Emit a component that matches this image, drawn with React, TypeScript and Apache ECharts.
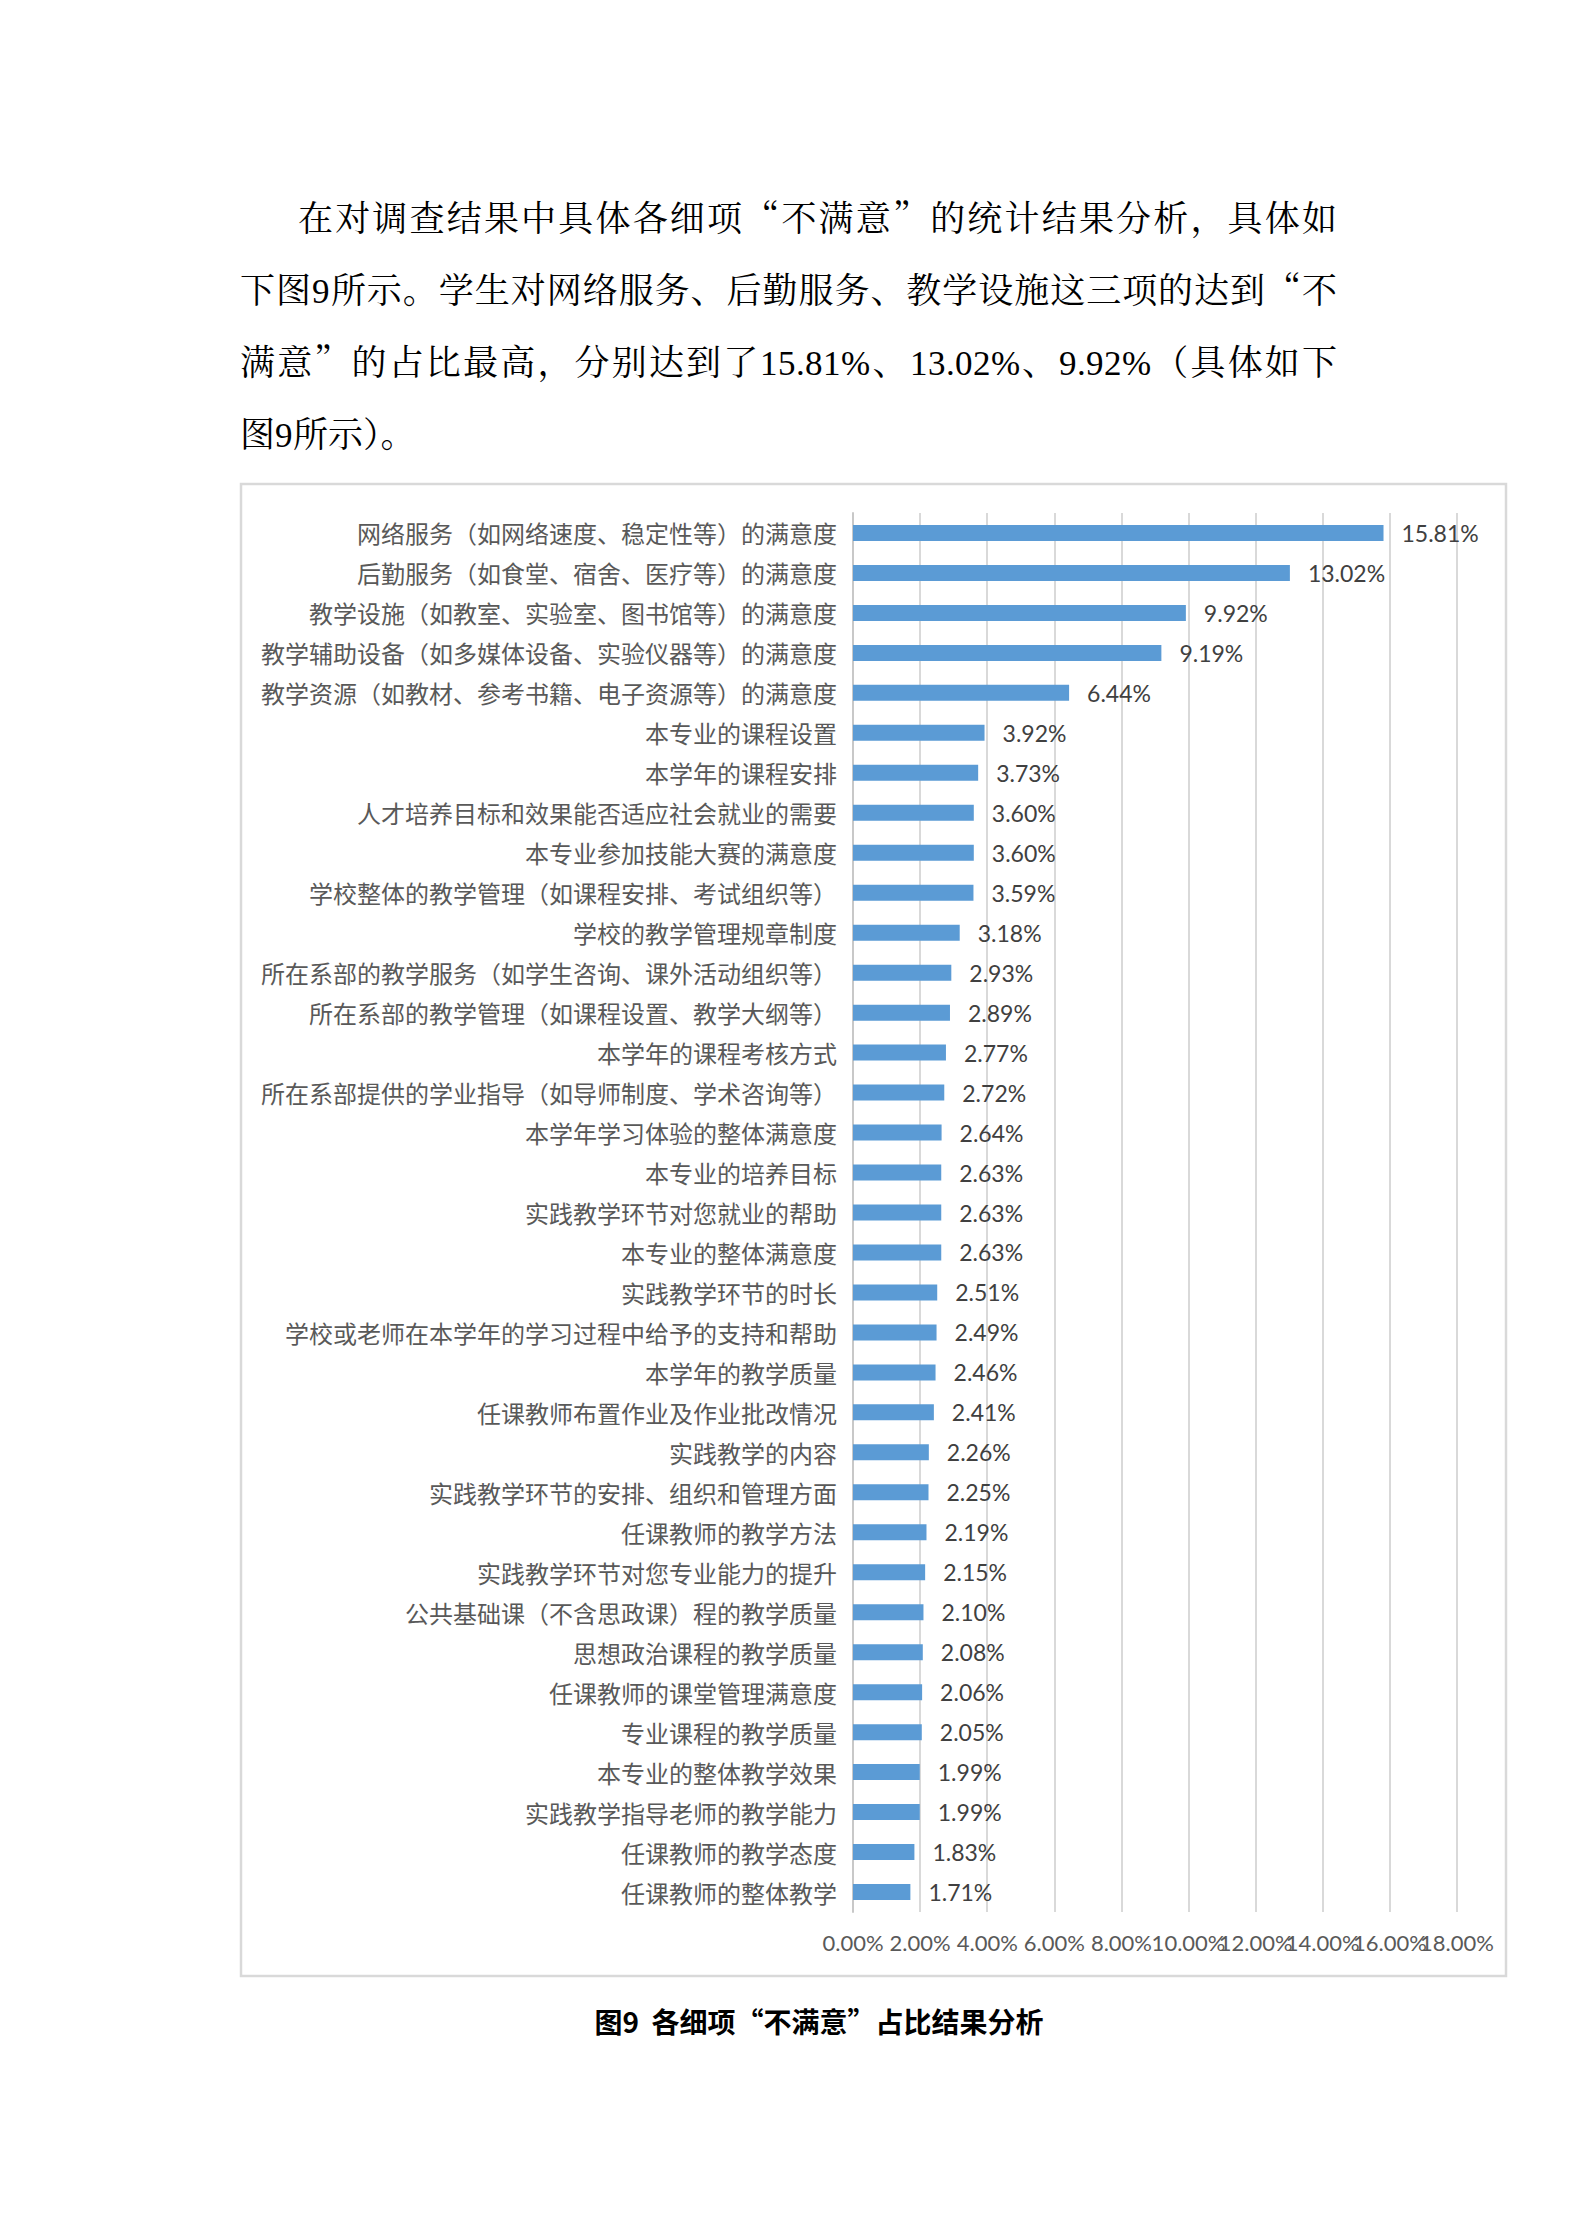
import React, { useEffect, useRef } from "react";
import * as echarts from "echarts";

const paragraphLines = [
  "在对调查结果中具体各细项“不满意”的统计结果分析，具体如",
  "下图9所示。学生对网络服务、后勤服务、教学设施这三项的达到“不",
  "满意”的占比最高，分别达到了15.81%、13.02%、9.92%（具体如下",
  "图9所示）。",
];

const categories = [
  "网络服务（如网络速度、稳定性等）的满意度",
  "后勤服务（如食堂、宿舍、医疗等）的满意度",
  "教学设施（如教室、实验室、图书馆等）的满意度",
  "教学辅助设备（如多媒体设备、实验仪器等）的满意度",
  "教学资源（如教材、参考书籍、电子资源等）的满意度",
  "本专业的课程设置",
  "本学年的课程安排",
  "人才培养目标和效果能否适应社会就业的需要",
  "本专业参加技能大赛的满意度",
  "学校整体的教学管理（如课程安排、考试组织等）",
  "学校的教学管理规章制度",
  "所在系部的教学服务（如学生咨询、课外活动组织等）",
  "所在系部的教学管理（如课程设置、教学大纲等）",
  "本学年的课程考核方式",
  "所在系部提供的学业指导（如导师制度、学术咨询等）",
  "本学年学习体验的整体满意度",
  "本专业的培养目标",
  "实践教学环节对您就业的帮助",
  "本专业的整体满意度",
  "实践教学环节的时长",
  "学校或老师在本学年的学习过程中给予的支持和帮助",
  "本学年的教学质量",
  "任课教师布置作业及作业批改情况",
  "实践教学的内容",
  "实践教学环节的安排、组织和管理方面",
  "任课教师的教学方法",
  "实践教学环节对您专业能力的提升",
  "公共基础课（不含思政课）程的教学质量",
  "思想政治课程的教学质量",
  "任课教师的课堂管理满意度",
  "专业课程的教学质量",
  "本专业的整体教学效果",
  "实践教学指导老师的教学能力",
  "任课教师的教学态度",
  "任课教师的整体教学",
];

const values = [
  15.81, 13.02, 9.92, 9.19, 6.44, 3.92, 3.73, 3.6, 3.6, 3.59, 3.18, 2.93, 2.89,
  2.77, 2.72, 2.64, 2.63, 2.63, 2.63, 2.51, 2.49, 2.46, 2.41, 2.26, 2.25, 2.19,
  2.15, 2.1, 2.08, 2.06, 2.05, 1.99, 1.99, 1.83, 1.71,
];

const xTicks = [0, 2, 4, 6, 8, 10, 12, 14, 16, 18];
const xTickLabels = ["0.00%", "2.00%", "4.00%", "6.00%", "8.00%", "10.00%", "12.00%", "14.00%", "16.00%", "18.00%"];

const captionText = "图9  各细项“不满意”占比结果分析";

const PAGE_W = 1580;
const PAGE_H = 2237;
const CJK = '"Noto Sans CJK SC", "Noto Sans", sans-serif';
const NUM = 'Lato, "Noto Sans", sans-serif';

const fontFaceCss =
  '@font-face { font-family: "LatinSerifOnly"; src: local("Liberation Serif"), local("LiberationSerif"), local("Liberation Serif Regular"), local("LiberationSerif-Regular"); unicode-range: U+0000-00FF; }';

export default function App() {
  const ref = useRef<HTMLDivElement>(null);

  useEffect(() => {
    if (!ref.current) return;
    const chart = echarts.init(ref.current, undefined, { renderer: "svg" });
    chart.setOption({
      animation: false,
      backgroundColor: "transparent",
      grid: {
        left: 853,
        right: PAGE_W - 1457,
        top: 513,
        bottom: PAGE_H - 1912,
        containLabel: false,
        outerBoundsMode: "none",
      },
      xAxis: [
        {
          type: "value",
          min: xTicks[0],
          max: xTicks[xTicks.length - 1],
          interval: xTicks[1] - xTicks[0],
          axisLine: { show: false },
          axisTick: { show: false },
          splitLine: { show: true, lineStyle: { color: "#d9d9d9", width: 2 } },
          axisLabel: { show: false },
        },
        {
          type: "category",
          position: "bottom",
          data: xTickLabels,
          boundaryGap: false,
          axisLine: { show: false },
          axisTick: { show: false },
          splitLine: { show: false },
          axisLabel: {
            interval: 0,
            fontFamily: NUM,
            fontSize: 22,
            color: "#595959",
            margin: 19,
          },
        },
      ],
      yAxis: {
        type: "category",
        inverse: true,
        data: categories,
        axisLine: { show: true, lineStyle: { color: "#c8c8c8", width: 2 } },
        axisTick: { show: false },
        axisLabel: {
          fontFamily: CJK,
          fontSize: 24,
          color: "#595959",
          margin: 16,
          interval: 0,
        },
      },
      series: [
        {
          type: "bar",
          xAxisIndex: 0,
          data: values,
          barWidth: 16,
          itemStyle: { color: "#5b9bd5" },
          label: {
            show: true,
            position: "right",
            distance: 18,
            formatter: (p: any) => Number(p.value).toFixed(2) + "%",
            fontFamily: NUM,
            fontSize: 23,
            color: "#404040",
          },
        },
      ],
      graphic: [
        {
          type: "rect",
          shape: { x: 241, y: 484, width: 1265, height: 1492 },
          style: { fill: "none", stroke: "#d9d9d9", lineWidth: 2.5 },
          silent: true,
        },
        {
          type: "text",
          x: 819,
          y: 2021,
          style: {
            text: captionText,
            font: 'bold 28px "Noto Sans CJK SC", sans-serif',
            fill: "#000000",
            textAlign: "center",
            textVerticalAlign: "middle",
          },
          silent: true,
        },
      ],
    });
    return () => chart.dispose();
  }, []);

  return (
    <div
      style={{
        position: "absolute",
        left: 0,
        top: 0,
        width: PAGE_W,
        height: PAGE_H,
        background: "#ffffff",
        overflow: "hidden",
      }}
    >
      <style>{fontFaceCss}</style>
      <div
        ref={ref}
        style={{ position: "absolute", left: 0, top: 0, width: PAGE_W, height: PAGE_H }}
      />
      <div
        style={{
          position: "absolute",
          left: 240,
          top: 184,
          width: 1097,
          fontFamily: '"LatinSerifOnly", "Noto Serif CJK SC", "Noto Sans CJK SC", serif',
          fontSize: 35,
          lineHeight: "72px",
          color: "#000",
        }}
      >
        {paragraphLines.map((line, i) => {
          const justify = i < paragraphLines.length - 1;
          return (
            <div
              key={i}
              style={{
                height: 72,
                textIndent: i === 0 ? 58 : 0,
                textAlign: justify ? "justify" : "left",
                textAlignLast: justify ? "justify" : "left",
                textJustify: "inter-character" as any,
              }}
            >
              {line}
            </div>
          );
        })}
      </div>
    </div>
  );
}
